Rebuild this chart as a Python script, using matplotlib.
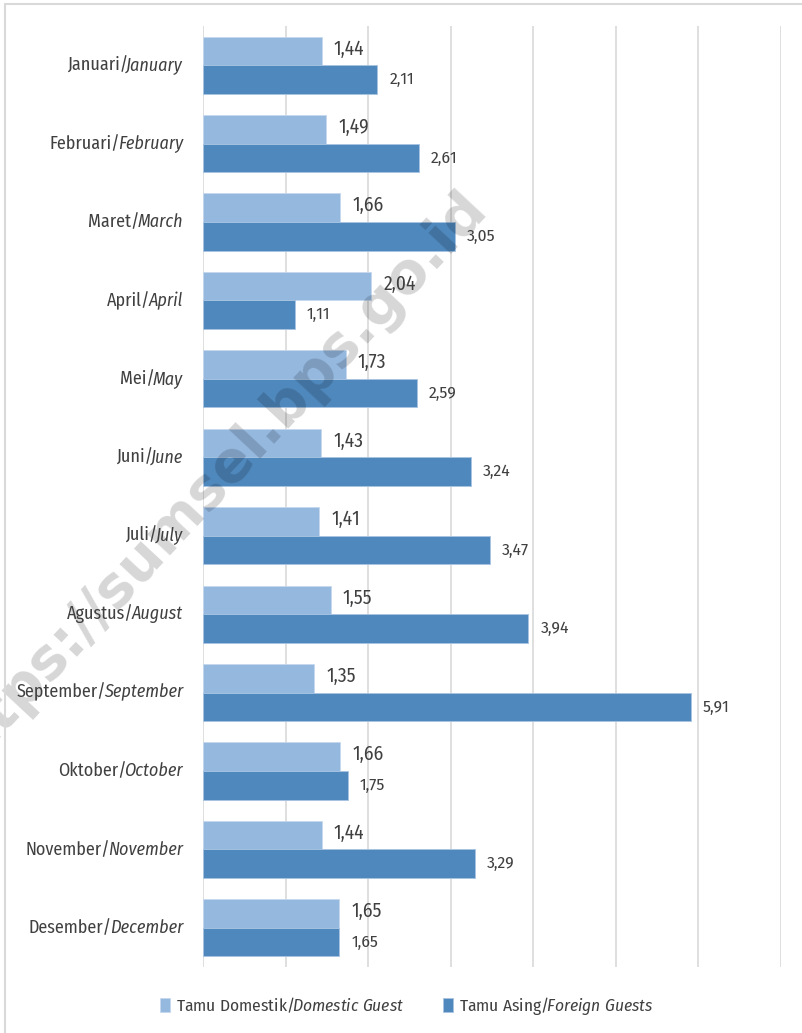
import matplotlib
matplotlib.use('Agg')
import matplotlib.pyplot as plt
from matplotlib import font_manager
from matplotlib.patches import Rectangle

bulan = ['Januari', 'Februari', 'Maret', 'April', 'Mei', 'Juni', 'Juli',
         'Agustus', 'September', 'Oktober', 'November', 'Desember']
months = ['January', 'February', 'March', 'April', 'May', 'June', 'July',
          'August', 'September', 'October', 'November', 'December']
domestik = [1.44, 1.49, 1.66, 2.04, 1.73, 1.43, 1.41, 1.55, 1.35, 1.66, 1.44, 1.65]
asing = [2.11, 2.61, 3.05, 1.11, 2.59, 3.24, 3.47, 3.94, 5.91, 1.75, 3.29, 1.65]

# pilih font sempit yang punya versi italic
fonts = font_manager.fontManager.ttflist
font = 'DejaVu Sans'
for cand in ['Fira Sans Condensed', 'PT Sans Narrow', 'Roboto Condensed',
             'Encode Sans Condensed', 'Open Sans Condensed', 'Liberation Sans Narrow']:
    styles = {f.style for f in fonts if f.name == cand}
    if 'normal' in styles and 'italic' in styles:
        font = cand
        break

plt.rcParams['font.family'] = font
plt.rcParams['mathtext.fontset'] = 'custom'
plt.rcParams['mathtext.rm'] = font
plt.rcParams['mathtext.it'] = font + ':italic'

c_dom = '#95b8df'
c_asing = '#4f88bd'
c_text = '#404040'

fig = plt.figure(figsize=(8.02, 10.33), dpi=100)
ax = fig.add_axes([203 / 802, 1 - 967 / 1033, 578 / 802, 941 / 1033])

y = range(len(bulan))
h = 0.365
ax.barh([i - h / 2 for i in y], domestik, height=h, color=c_dom,
        edgecolor='#c5d8ee', linewidth=0.6,
        label='$\\mathrm{Tamu\\ Domestik/}\\!\\mathit{Domestic\\ Guest}$', zorder=2)
ax.barh([i + h / 2 for i in y], asing, height=h, color=c_asing,
        edgecolor='#a8c4e2', linewidth=0.6,
        label='$\\mathrm{Tamu\\ Asing/}\\!\\mathit{Foreign\\ Guests}$', zorder=2)

for i in y:
    ax.annotate(f'{domestik[i]:.2f}'.replace('.', ','), (domestik[i], i - h / 2),
                xytext=(12, 2), textcoords='offset pixels', va='center',
                fontsize=14, color=c_text, zorder=4)
    ax.annotate(f'{asing[i]:.2f}'.replace('.', ','), (asing[i], i + h / 2),
                xytext=(12, 0), textcoords='offset pixels', va='center',
                fontsize=12.5, color=c_text, zorder=4)

    # label kategori: bagian Indonesia tegak, bagian Inggris miring
    it = ax.annotate(months[i], (0, i), xycoords=('axes fraction', 'data'),
                     xytext=(-20, 0), textcoords='offset pixels', ha='right',
                     va='center', fontsize=13, style='italic', color=c_text, zorder=4)
    ax.annotate(bulan[i] + '/', (0, 0), xycoords=it, xytext=(2, 0),
                textcoords='offset pixels', ha='right', va='bottom',
                fontsize=13, color=c_text, zorder=4)

ax.set_xlim(0, 7)
ax.set_ylim(11.5, -0.5)
ax.set_xticks(range(8))
ax.set_xticklabels([])
ax.set_yticks([])
ax.tick_params(length=0)
ax.grid(axis='x', color='#d9d9d9', linewidth=1.2, zorder=0)
for s in ax.spines.values():
    s.set_visible(False)

fig.legend(loc='center', bbox_to_anchor=(0.507, 1 - 1006 / 1033), ncol=2,
           frameon=False, fontsize=12.5, handlelength=0.6, handleheight=0.9,
           handletextpad=0.35, columnspacing=2.2, labelcolor=c_text)

# bingkai
fig.patches.append(Rectangle((5 / 802, -0.1), 1.2, 1 - 4 / 1033 + 0.1, transform=fig.transFigure,
                             fill=False, edgecolor='#d9d9d9', linewidth=1.5))

# watermark
ax.text(0.263, 0.531, 'https://sumsel.bps.go.id', rotation=47, fontsize=41,
        fontweight='bold', family='DejaVu Sans', color='black', alpha=0.16,
        ha='center', va='center', zorder=3, transform=fig.transFigure, clip_on=False)

fig.savefig('out.png', dpi=100)
